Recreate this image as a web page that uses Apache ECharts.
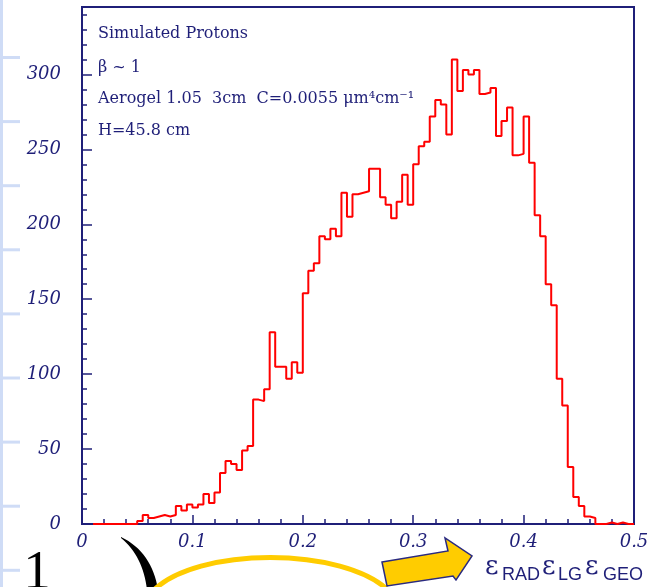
<!DOCTYPE html>
<html><head><meta charset="utf-8">
<script src="https://cdn.jsdelivr.net/npm/echarts@6/dist/echarts.min.js"></script>
<style>html,body{margin:0;padding:0;background:#fff}#c{width:652px;height:587px}</style>
</head><body><div id="c"></div>
<script>
// Histogram: 100 bins of width 0.005 over [0, 0.5]
const binWidth = 0.005;
const xMin = 0, xMax = 0.5;
const yMin = 0, yMax = 345;
const counts = [
  null, null, 0, 0, 0, 0, 0, 0, 0, 0,
  2, 6, 4, 5, 6, 5, 6, 12, 9, 13,
  11, 13, 20, 14, 21, 34, 42, 40, 36, 49,
  52, 83, 82, 90, 128, 105, 105, 97, 108, 101,
  154, 169, 174, 192, 190, 197, 192, 221, 205, 220,
  221, 222, 237, 237, 218, 213, 204, 215, 233, 213,
  240, 252, 255, 272, 283, 280, 260, 310, 289, 303,
  300, 303, 287, 288, 291, 259, 269, 278, 246, 247,
  272, 241, 206, 192, 160, 146, 97, 79, 38, 18,
  12, 5, 4, 0, 0, 1, 0, 1, 0, 0
];
const infoLines = [
  'Simulated Protons',
  'β ~ 1',
  'Aerogel 1.05  3cm  C=0.0055 μm⁴cm⁻¹',
  'H=45.8 cm'
];
const effParts = [['ε','RAD'],['ε','LG'],['ε','GEO']];

const NAVY = '#1f1f78';
const data = [];
counts.forEach((c, i) => { if (c !== null) data.push([i * binWidth, c]); });
data.push([counts.length * binWidth, counts[counts.length - 1]]);

const labelFont = { fontFamily: 'DejaVu Serif', fontStyle: 'italic', fontSize: 18, color: NAVY };

// sample a quadratic bezier (decoration helper)
function quad(p0, c, p1, n) {
  const pts = [];
  for (let i = 0; i <= n; i++) {
    const t = i / n, u = 1 - t;
    pts.push([u*u*p0[0] + 2*u*t*c[0] + t*t*p1[0], u*u*p0[1] + 2*u*t*c[1] + t*t*p1[1]]);
  }
  return pts;
}

const graphics = [];
// left slide decoration
graphics.push({ type: 'rect', shape: { x: 0, y: 0, width: 3, height: 587 }, style: { fill: '#cfdcf6' }, silent: true });
for (let k = 0; k < 9; k++) {
  graphics.push({ type: 'rect', shape: { x: 0, y: 56 + k * 64.1, width: 20, height: 3 }, style: { fill: '#cfdcf6' }, silent: true });
}
// info text
const infoY = [34, 68, 99, 131];
infoLines.forEach((t, i) => {
  graphics.push({ type: 'text', x: 98, y: infoY[i], style: { text: t, fill: NAVY, font: '16px "DejaVu Serif"', align: 'left', verticalAlign: 'middle' } });
});
// big "1"
graphics.push({ type: 'text', x: 37, y: 574, style: { text: '1', fill: '#000', font: '55px "Liberation Serif"', align: 'center', verticalAlign: 'middle' } });
// black crescent
const outer = quad([121,537], [152,552], [158,590], 16);
const inner = quad([147,590], [143,556], [121,538], 16);
graphics.push({ type: 'polygon', shape: { points: outer.concat(inner) }, style: { fill: '#000' } });
// yellow arc
graphics.push({ type: 'bezierCurve', shape: { x1: 152, y1: 592, cpx1: 195, cpy1: 546, cpx2: 345, cpy2: 546, x2: 390, y2: 592 }, style: { fill: null, stroke: '#ffcc00', lineWidth: 5 } });
// yellow arrow
graphics.push({ type: 'polygon', shape: { points: [[382,562],[448,551],[445,538],[472,556],[456,580],[453,576],[387,586]] }, style: { fill: '#ffcc00', stroke: '#2a2a80', lineWidth: 1.5 } });
// efficiency text
const eX = [485, 542, 585], sX = [502, 558, 603];
effParts.forEach((p, i) => {
  graphics.push({ type: 'text', x: eX[i], y: 567, style: { text: p[0], fill: NAVY, font: '26px "DejaVu Serif"', align: 'left', verticalAlign: 'middle' } });
  graphics.push({ type: 'text', x: sX[i], y: 575, style: { text: p[1], fill: NAVY, font: '18px "Liberation Sans"', align: 'left', verticalAlign: 'middle' } });
});

const chart = echarts.init(document.getElementById('c'), null, { renderer: 'canvas' });
chart.setOption({
  animation: false,
  backgroundColor: '#fff',
  grid: { left: 82, right: 18, top: 7, bottom: 63, show: true, borderColor: NAVY, borderWidth: 2, backgroundColor: 'transparent', containLabel: false, outerBoundsMode: 'none' },
  xAxis: {
    type: 'value', min: xMin, max: xMax, interval: 0.1,
    axisLine: { show: true, lineStyle: { color: NAVY, width: 2 } },
    axisTick: { show: true, inside: true, length: 9, lineStyle: { color: NAVY, width: 1.5 } },
    minorTick: { show: true, splitNumber: 5, length: 5, lineStyle: { color: NAVY, width: 1.5 } },
    axisLabel: Object.assign({ margin: 9, formatter: v => v === 0 ? '0' : v.toFixed(1) }, labelFont),
    splitLine: { show: false }, minorSplitLine: { show: false }
  },
  yAxis: [
    {
      type: 'value', min: yMin, max: yMax, interval: 50, position: 'left',
      axisLine: { show: true, lineStyle: { color: NAVY, width: 2 } },
      axisTick: { show: true, inside: true, length: 10, lineStyle: { color: NAVY, width: 1.5 } },
      axisLabel: Object.assign({ margin: 21, showMaxLabel: false }, labelFont),
      splitLine: { show: false }
    },
    {
      type: 'value', min: yMin, max: yMax, interval: 10, position: 'left',
      axisLine: { show: false },
      axisTick: { show: true, inside: true, length: 5, lineStyle: { color: NAVY, width: 1.5 } },
      axisLabel: { show: false },
      splitLine: { show: false }
    }
  ],
  series: [{
    type: 'line', step: 'end', data: data, yAxisIndex: 0,
    symbol: 'none', showSymbol: false,
    lineStyle: { color: '#ff0000', width: 2 },
    clip: true, z: 3
  }],
  graphic: graphics
});
</script>
</body></html>
